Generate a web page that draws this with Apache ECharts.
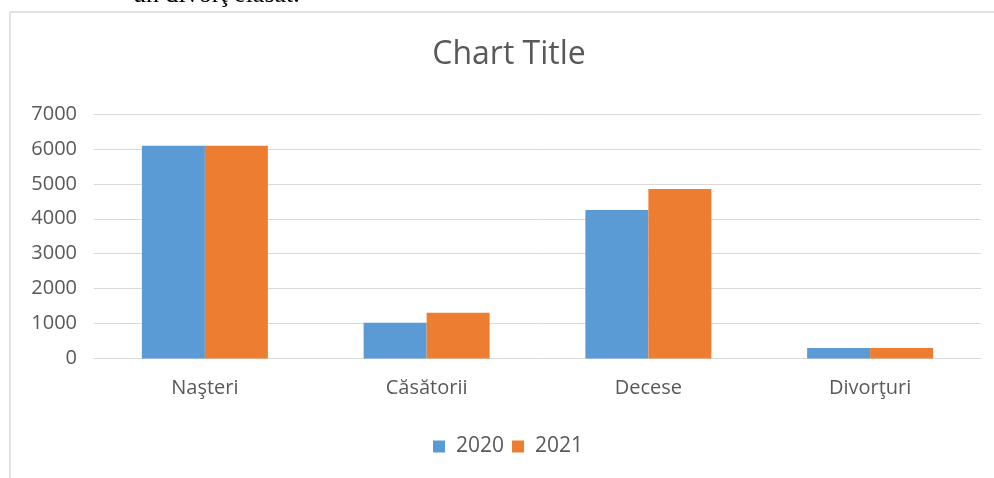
<!DOCTYPE html>
<html>
<head>
<meta charset="utf-8">
<script src="https://cdn.jsdelivr.net/npm/echarts@6/dist/echarts.min.js"></script>
<style>
html,body{margin:0;padding:0;background:#fff;}
#c{width:994px;height:478px;}
</style>
</head>
<body>
<div id="c"></div>
<script>
const categories = ['Naşteri', 'Căsătorii', 'Decese', 'Divorţuri'];
const seriesNames = ['2020', '2021'];
const values2020 = [6090, 1025, 4251, 300];
const values2021 = [6090, 1311, 4853, 300];
const yTicks = [0, 1000, 2000, 3000, 4000, 5000, 6000, 7000];

const chart = echarts.init(document.getElementById('c'), null, {renderer: 'canvas'});
const font = 'Open Sans';
chart.setOption({
  animation: false,
  backgroundColor: '#fff',
  graphic: [
    {type: 'rect', shape: {x: 10, y: 12, width: 1100, height: 600}, style: {fill: 'none', stroke: '#d9d9d9', lineWidth: 1.5}, z: -10},
    {type: 'text', x: 133, y: -18, style: {text: 'un divorţ elasat.', fill: '#000', font: '26px "Liberation Serif"', verticalAlign: 'top'}},
    {type: 'text', x: 509, y: 55, style: {text: 'Chart Title', fill: '#595959', font: '32px "Open Sans"', align: 'center', verticalAlign: 'middle'}}
  ],
  legend: {
    data: seriesNames,
    left: 433,
    top: 436,
    padding: 0,
    itemWidth: 12,
    itemHeight: 12,
    itemGap: 8,
    icon: 'rect',
    textStyle: {color: '#595959', fontSize: 21, fontFamily: font, padding: [0, 0, 0, 6]}
  },
  grid: {left: 94, right: 13, top: 114, bottom: 119.5, containLabel: false},
  xAxis: {
    type: 'category',
    data: categories,
    axisLine: {show: true, lineStyle: {color: '#d9d9d9', width: 1}},
    axisTick: {show: false},
    axisLabel: {color: '#595959', fontSize: 20, fontFamily: font, margin: 20}
  },
  yAxis: {
    type: 'value',
    min: yTicks[0],
    max: yTicks[yTicks.length - 1],
    interval: 1000,
    axisLine: {show: false},
    axisTick: {show: false},
    splitLine: {lineStyle: {color: '#d9d9d9', width: 1}},
    axisLabel: {color: '#595959', fontSize: 20, fontFamily: font, margin: 17, formatter: v => String(v)}
  },
  series: [
    {name: seriesNames[0], type: 'bar', data: values2020, barWidth: 63, barGap: '0%', itemStyle: {color: '#5b9bd5'}},
    {name: seriesNames[1], type: 'bar', data: values2021, barWidth: 63, barGap: '0%', itemStyle: {color: '#ed7d31'}}
  ]
});
</script>
</body>
</html>
